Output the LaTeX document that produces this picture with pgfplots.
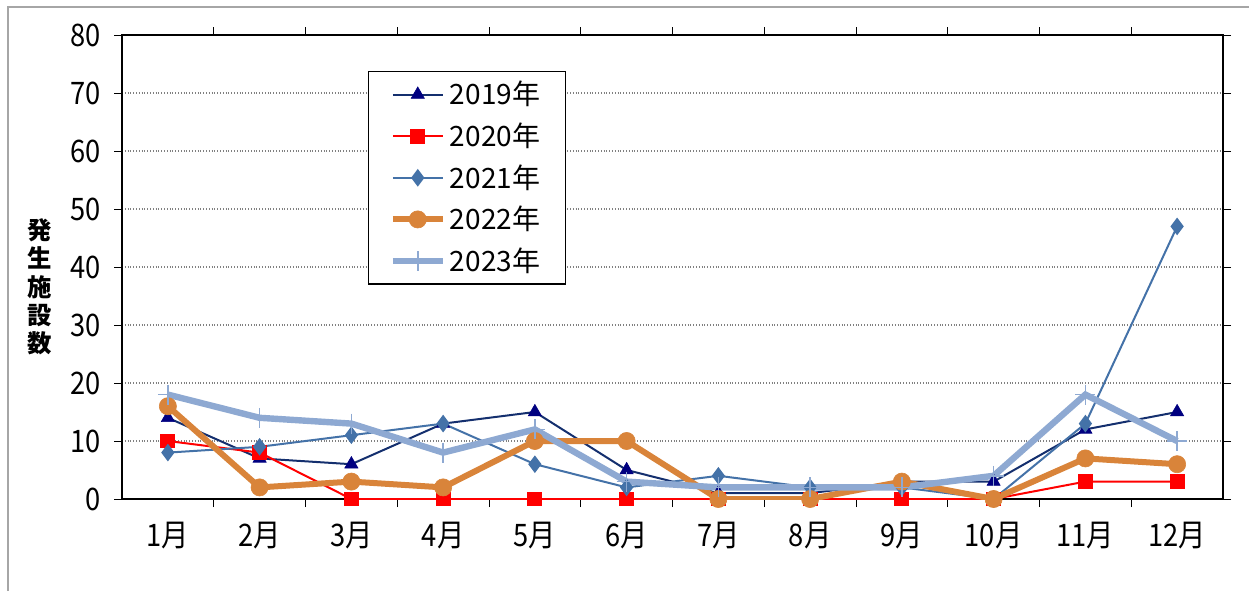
\documentclass[border=0pt]{standalone}
\usepackage{pgfplots}
\pgfplotsset{compat=1.18}
\usepackage{fontspec}
\setmainfont{Noto Sans CJK JP}
\newfontfamily\cfont[FakeStretch=0.88]{Noto Sans CJK JP}
\definecolor{c19}{HTML}{000080}
\definecolor{c19l}{HTML}{142F6E}
\definecolor{c20}{HTML}{FF0000}
\definecolor{c21}{HTML}{4472A8}
\definecolor{c22}{HTML}{D9843A}
\definecolor{c23}{HTML}{8EA9D2}
\begin{document}
\begin{tikzpicture}
\path[use as bounding box] (0,0) rectangle (624.5pt,295.5pt);
\draw[gray!70, line width=0.6pt] (4pt,0) -- (4pt,292pt) -- (624.5pt,292pt);
\begin{axis}[
  at={(61pt,46pt)}, anchor=south west,
  scale only axis, width=550.5pt, height=232pt,
  xmin=0.5, xmax=12.5, ymin=0, ymax=80,
  ytick={0,10,...,80},
  xtick={1.5,2.5,...,11.5}, xticklabels={},
  extra x ticks={1,2,...,12},
  extra x tick labels={1月,2月,3月,4月,5月,6月,7月,8月,9月,10月,11月,12月},
  extra x tick style={major tick length=0pt, grid=none},
  tick align=outside, major tick length=4pt,
  tick style={black, line width=0.5pt},
  ymajorgrids, grid style={densely dotted, gray, line width=0.6pt},
  axis line style={black, line width=0.6pt},
  /pgf/number format/assume math mode=true,
  tick label style={font=\cfont\fontsize{15.5}{17}\selectfont},
  yticklabel style={xshift=-3pt},
  xticklabel style={yshift=-8pt},
  ylabel={発\\生\\施\\設\\数},
  ylabel style={rotate=-90, align=center, font=\fontsize{12.2}{14.2}\selectfont\bfseries, at={(rel axis cs:0,0.457)}, xshift=-41pt, anchor=center},
  legend style={at={(0.2234,0.9224)}, anchor=north west, draw=black, line width=0.6pt,
     font=\fontsize{14}{15.5}\selectfont, row sep=3.5pt, inner xsep=10.5pt, inner ysep=2.8pt, cells={anchor=west}},
  legend image code/.code={\draw[mark repeat=2,mark phase=2] plot coordinates {(0pt,0pt) (12.5pt,0pt) (25pt,0pt)};},
]
\addplot[c19l, line width=1pt, mark=triangle*, mark size=3.8pt, mark options={c19, fill=c19, solid, line width=0.3pt}]
 coordinates {(1,14) (2,7) (3,6) (4,13) (5,15) (6,5) (7,1) (8,1) (9,3) (10,3) (11,12) (12,15)};
\addlegendentry{2019年}
\addplot[c20, line width=1pt, mark=square*, mark size=3.2pt, mark options={c20, fill=c20, solid}]
 coordinates {(1,10) (2,8) (3,0) (4,0) (5,0) (6,0) (7,0) (8,0) (9,0) (10,0) (11,3) (12,3)};
\addlegendentry{2020年}
\addplot[c21, line width=1pt, mark=diamond*, mark size=3.6pt, mark options={c21, fill=c21, solid}]
 coordinates {(1,8) (2,9) (3,11) (4,13) (5,6) (6,2) (7,4) (8,2) (9,2) (10,0) (11,13) (12,47)};
\addlegendentry{2021年}
\addplot[c22, line width=3pt, mark=*, mark size=4.3pt, mark options={c22, fill=c22, solid, line width=0.3pt}]
 coordinates {(1,16) (2,2) (3,3) (4,2) (5,10) (6,10) (7,0) (8,0) (9,3) (10,0) (11,7) (12,6)};
\addlegendentry{2022年}
\addplot[c23, line width=3.2pt, mark=+, mark size=5pt, mark options={c23, solid, line width=0.8pt}]
 coordinates {(1,18) (2,14) (3,13) (4,8) (5,12) (6,3) (7,2) (8,2) (9,2) (10,4) (11,18) (12,10)};
\addlegendentry{2023年}
\end{axis}
\end{tikzpicture}
\end{document}
